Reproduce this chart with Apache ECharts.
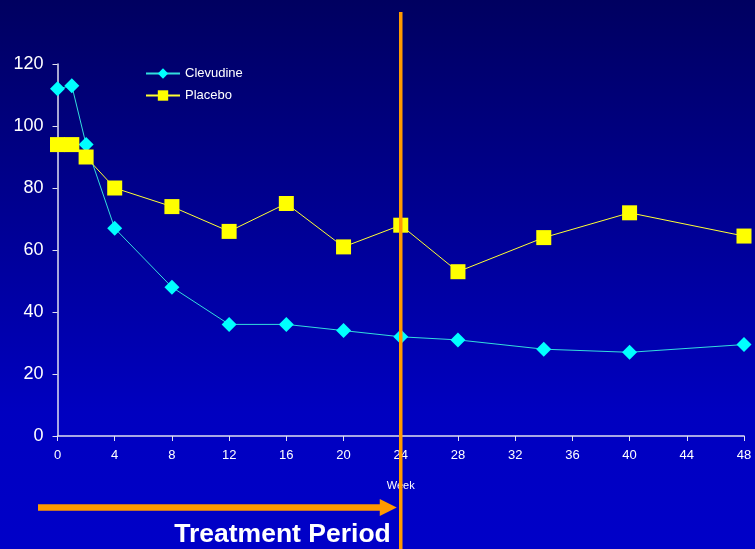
<!DOCTYPE html>
<html>
<head>
<meta charset="utf-8">
<script src="https://cdn.jsdelivr.net/npm/echarts@6/dist/echarts.min.js"></script>
<style>
  html, body { margin: 0; padding: 0; }
  #chart { width: 755px; height: 549px; }
</style>
</head>
<body>
<div id="chart"></div>
<script>
// Weeks at which each arm was measured
const weeks = [0, 1, 2, 4, 8, 12, 16, 20, 24, 28, 34, 40, 48];
// Mean values per arm
const clevudine = [112, 113, 94, 67, 48, 36, 36, 34, 32, 31, 28, 27, 29.5];
const placebo   = [94, 94, 90, 80, 74, 66, 75, 61, 68, 53, 64, 72, 64.5];
// End of the treatment period (week)
const treatmentEnd = 24;

const pairs = (xs, ys) => xs.map((x, i) => [x, ys[i]]);

const chart = echarts.init(document.getElementById('chart'), null, { renderer: 'canvas' });

const font = 'Arial, "Liberation Sans", sans-serif';

chart.setOption({
  animation: false,
  backgroundColor: {
    type: 'linear', x: 0, y: 0, x2: 0, y2: 1,
    colorStops: [
      { offset: 0, color: '#000060' },
      { offset: 0.75, color: '#0000c0' },
      { offset: 1, color: '#0000c8' }
    ]
  },
  grid: { left: 57.5, right: 11, top: 64, bottom: 113, containLabel: false },
  legend: {
    orient: 'vertical',
    left: 140, top: 62,
    itemWidth: 34, itemHeight: 13, itemGap: 9,
    textStyle: { color: '#ffffff', fontSize: 13, fontFamily: font },
    data: ['Clevudine', 'Placebo']
  },
  xAxis: {
    type: 'value', min: 0, max: 48, interval: 4,
    name: 'Week', nameLocation: 'middle', nameGap: 44,
    nameTextStyle: { color: '#ffffff', fontSize: 11, fontFamily: font },
    axisLine: { lineStyle: { color: '#e0e0f0', width: 1.5 } },
    axisTick: { show: true, length: 5, lineStyle: { color: '#e0e0f0' } },
    axisLabel: { color: '#ffffff', fontSize: 13, fontFamily: font, margin: 13 },
    splitLine: { show: false }
  },
  yAxis: {
    type: 'value', min: 0, max: 120, interval: 20,
    axisLine: { show: true, lineStyle: { color: '#e0e0f0', width: 1.5 } },
    axisTick: { show: true, length: 5, lineStyle: { color: '#e0e0f0' } },
    axisLabel: { color: '#ffffff', fontSize: 18, fontFamily: font, margin: 14 },
    splitLine: { show: false }
  },
  series: [
    {
      name: 'Clevudine', type: 'line',
      data: pairs(weeks, clevudine),
      symbol: 'diamond', symbolSize: 15,
      lineStyle: { color: '#33dddd', width: 1 },
      itemStyle: { color: '#00ffff' },
      z: 3
    },
    {
      name: 'Placebo', type: 'line',
      data: pairs(weeks, placebo),
      symbol: 'rect', symbolSize: 15,
      lineStyle: { color: '#ffff33', width: 1 },
      itemStyle: { color: '#ffff00' },
      z: 4
    }
  ]
});

// Annotations: end-of-treatment line, arrow and caption, placed on the axis scale
const xEnd = chart.convertToPixel({ xAxisIndex: 0 }, treatmentEnd);
const arrowY = 507.5;
const arrowStart = 38;
const arrowTip = xEnd - 4;
chart.setOption({
  graphic: [
    {
      type: 'line', z: 10,
      shape: { x1: xEnd, y1: 12, x2: xEnd, y2: 549 },
      style: { stroke: '#ff9900', lineWidth: 3.5 }
    },
    {
      type: 'line', z: 10,
      shape: { x1: arrowStart, y1: arrowY, x2: arrowTip - 15, y2: arrowY },
      style: { stroke: '#ff9900', lineWidth: 6.5 }
    },
    {
      type: 'polygon', z: 10,
      shape: { points: [[arrowTip - 17, arrowY - 8.5], [arrowTip, arrowY], [arrowTip - 17, arrowY + 8.5]] },
      style: { fill: '#ff9900' }
    },
    {
      type: 'text', z: 10,
      x: xEnd - 10, y: 535,
      style: {
        text: 'Treatment Period',
        fill: '#ffffff',
        font: 'bold 26.5px Arial, "Liberation Sans", sans-serif',
        textAlign: 'right', textVerticalAlign: 'middle'
      }
    }
  ]
});
</script>
</body>
</html>
